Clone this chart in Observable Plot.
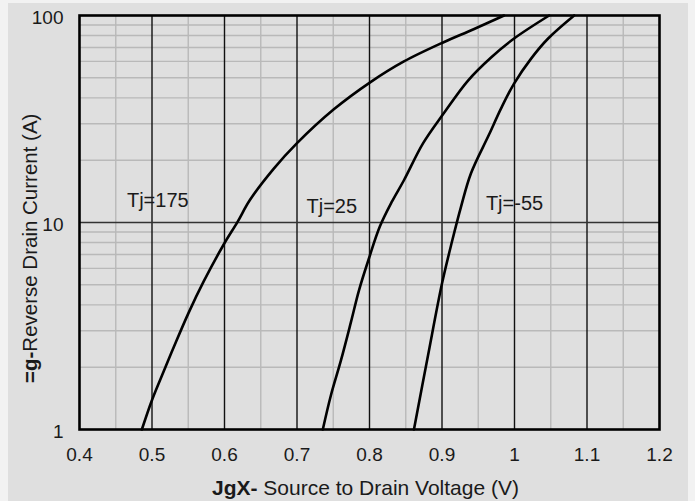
<!DOCTYPE html>
<html><head><meta charset="utf-8">
<script src="https://cdn.jsdelivr.net/npm/d3@7"></script>
<script src="https://cdn.jsdelivr.net/npm/@observablehq/plot@0.6"></script>
<style>
body{margin:0;background:#f2f2f2;}
#wrap{position:relative;width:695px;height:501px;overflow:hidden;}
#panel{position:absolute;left:8px;top:3px;width:680px;height:498px;background:#dfdfdf;}
#chart{position:absolute;left:0;top:0;}
</style></head><body><div id="wrap"><div id="panel"></div><div id="chart"></div></div>
<script>
// tick values
const xTicks = [0.4, 0.5, 0.6, 0.7, 0.8, 0.9, 1.0, 1.1, 1.2];
const yTicks = [1, 10, 100];
const xMajorGrid = [0.5, 0.6, 0.7, 0.8, 0.9, 1.0, 1.1];
const xMinorGrid = [0.45, 0.55, 0.65, 0.75, 0.85, 0.95, 1.05, 1.15];
const yMajorGrid = [10];
const yMinorGrid = [2, 3, 4, 5, 6, 7, 8, 9, 20, 30, 40, 50, 60, 70, 80, 90];

// Tj = 175
const v175 = [0.486, 0.4994, 0.5119, 0.5298, 0.5506, 0.5713, 0.5989, 0.6182, 0.6348, 0.668, 0.6997, 0.7508, 0.8019, 0.8475, 0.9014, 0.9428, 0.9856];
const i175 = [1, 1.37, 1.76, 2.49, 3.67, 5.19, 7.83, 10.1, 12.8, 18.2, 24.1, 35.2, 47.8, 60.0, 74.1, 85.6, 100];
// Tj = 25
const v25 = [0.7356, 0.7467, 0.7605, 0.7743, 0.7854, 0.7992, 0.8144, 0.8309, 0.8475, 0.8738, 0.9014, 0.9359, 0.9677, 0.9994, 1.0478];
const i25 = [1, 1.46, 2.15, 3.29, 4.69, 6.70, 9.58, 12.6, 16.0, 24.1, 33.3, 48.5, 62.7, 77.4, 100];
// Tj = -55
const vm55 = [0.8613, 0.8807, 0.9, 0.9138, 0.9262, 0.94, 0.9649, 0.9815, 0.9994, 1.0229, 1.0464, 1.0823];
const im55 = [1, 2.28, 5.07, 8.09, 11.9, 17.3, 26.6, 35.6, 46.9, 61.9, 77.4, 100];

// curve labels
const labelText = ["Tj=175", "Tj=25", "Tj=-55"];
const labelV = [0.508, 0.748, 1.0];
const labelI = [12.7, 11.9, 12.3];

const series = [
  {name: "175", v: v175, i: i175},
  {name: "25", v: v25, i: i25},
  {name: "-55", v: vm55, i: im55}
];
const rows = series.flatMap(s => s.v.map((v, k) => ({tj: s.name, v, i: s.i[k]})));
const labels = labelText.map((t, k) => ({t, v: labelV[k], i: labelI[k]}));

const font = "'Liberation Sans', Arial, sans-serif";

const plot = Plot.plot({
  width: 695,
  height: 501,
  marginLeft: 79,
  marginRight: 36,
  marginTop: 15,
  marginBottom: 72,
  style: {background: "transparent", fontFamily: font, fontSize: "19px", color: "#1a1a1a"},
  x: {domain: [0.4, 1.2]},
  y: {type: "log", domain: [1, 100]},
  marks: [
    Plot.ruleX(xMinorGrid, {stroke: "#b9b9b9", strokeWidth: 1.4}),
    Plot.ruleY(yMinorGrid, {stroke: "#b9b9b9", strokeWidth: 1.4}),
    Plot.ruleX(xMajorGrid, {stroke: "#111", strokeWidth: 1.4}),
    Plot.ruleY(yMajorGrid, {stroke: "#333", strokeWidth: 1.6}),
    Plot.line(rows, {x: "v", y: "i", z: "tj", stroke: "black", strokeWidth: 2.6, curve: "catmull-rom"}),
    Plot.text(labels, {x: "v", y: "i", text: "t", fontSize: 20, fill: "#1a1a1a", textAnchor: "middle", lineAnchor: "middle"}),
    Plot.frame({stroke: "black", strokeWidth: 2.6}),
    Plot.axisX({ticks: xTicks, tickFormat: d => String(d), tickSize: 0, tickPadding: 18, label: null}),
    Plot.axisY({ticks: yTicks, tickFormat: d => String(d), tickSize: 0, tickPadding: 16, dy: 2, label: null})
  ]
});

const svg = d3.select(plot);
const xl = svg.append("text")
  .attr("x", 212).attr("y", 495).attr("text-anchor", "start")
  .attr("font-family", font).attr("font-size", 21).attr("fill", "#1a1a1a");
xl.append("tspan").attr("font-weight", "bold").text("JgX-");
xl.append("tspan").text(" Source to Drain Voltage (V)");

const yl = svg.append("text")
  .attr("transform", "translate(37,383) rotate(-90)").attr("text-anchor", "start")
  .attr("font-family", font).attr("font-size", 20.5).attr("fill", "#1a1a1a");
yl.append("tspan").attr("font-weight", "bold").text("=g-");
yl.append("tspan").text("Reverse Drain Current (A)");

document.getElementById("chart").appendChild(plot);
</script>
</body></html>
